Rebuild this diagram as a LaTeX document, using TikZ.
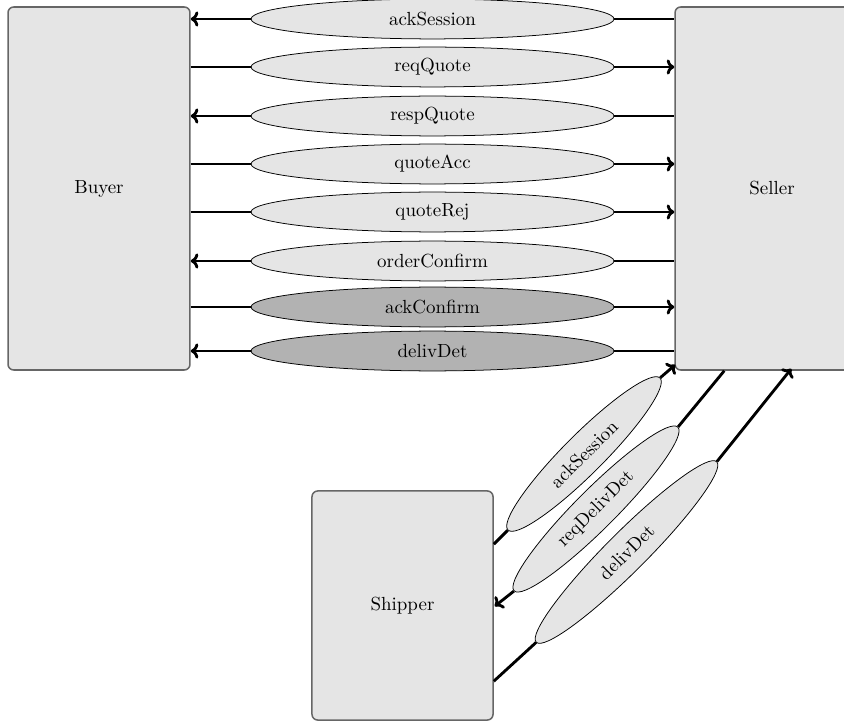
\documentclass[tikz,border=0pt]{standalone}
\usetikzlibrary{shapes.geometric,calc,arrows.meta}

\begin{document}
\begin{tikzpicture}[x=0.527pt,y=-0.527pt,>={To[length=4pt,width=8pt]}]
\tikzset{party/.style={draw=black!60,line width=0.8pt,fill=gray!20,rounded corners=3pt,minimum height=191.3pt},
    msg/.style={ellipse,draw=black,thin,fill=gray!20,minimum width=191.3pt,minimum height=21pt,inner sep=0pt},
    diagmsg/.style={msg,rotate=45},
    flow/.style={line width=1.5pt}}
\useasboundingbox (0,0) rectangle (844,721);
\clip (0,0) rectangle (844,721);
\node[party,minimum width=95.9pt] (buyer) at (99,188.5) {Buyer};
\node[party,minimum width=102.2pt] (seller) at (772,188.5) {Seller};
\node[party,minimum width=95.4pt,minimum height=120.7pt] (shipper) at (402.5,605.5) {Shipper};
% buyer <-> seller
\foreach \y/\txt/\arr/\shade in {19/ackSession/<-/gray!20, 67/reqQuote/->/gray!20,
    116/respQuote/<-/gray!20, 164/quoteAcc/->/gray!20, 212/quoteRej/->/gray!20,
    261/orderConfirm/<-/gray!20, 307/ackConfirm/->/gray!60, 351/delivDet/<-/gray!60}
    \draw[flow,\arr] (buyer.east |- 0,\y) -- node[msg,fill=\shade] {\txt} (seller.west |- 0,\y);
% shipper <-> seller
\node[diagmsg,minimum width=113.3pt] (ack) at (584,454) {ackSession};
\node[diagmsg,minimum width=122pt] (req) at (596,509) {reqDelivDet};
\node[diagmsg,minimum width=134.5pt] (deliv) at (626.5,552) {delivDet};
\draw[flow,->] ($(shipper.north east)+(0,54)$) -- (ack.west) (ack.east) -- ($(seller.south west)+(1,-6)$);
\draw[flow,->] ($(seller.south west)+(50,0)$) -- (req.east) (req.west) -- ($(shipper.north east)+(1,116)$);
\draw[flow,->] ($(shipper.north east)+(0,191)$) -- (deliv.west) (deliv.east) -- ($(seller.south west)+(117,-2)$);
\end{tikzpicture}
\end{document}
